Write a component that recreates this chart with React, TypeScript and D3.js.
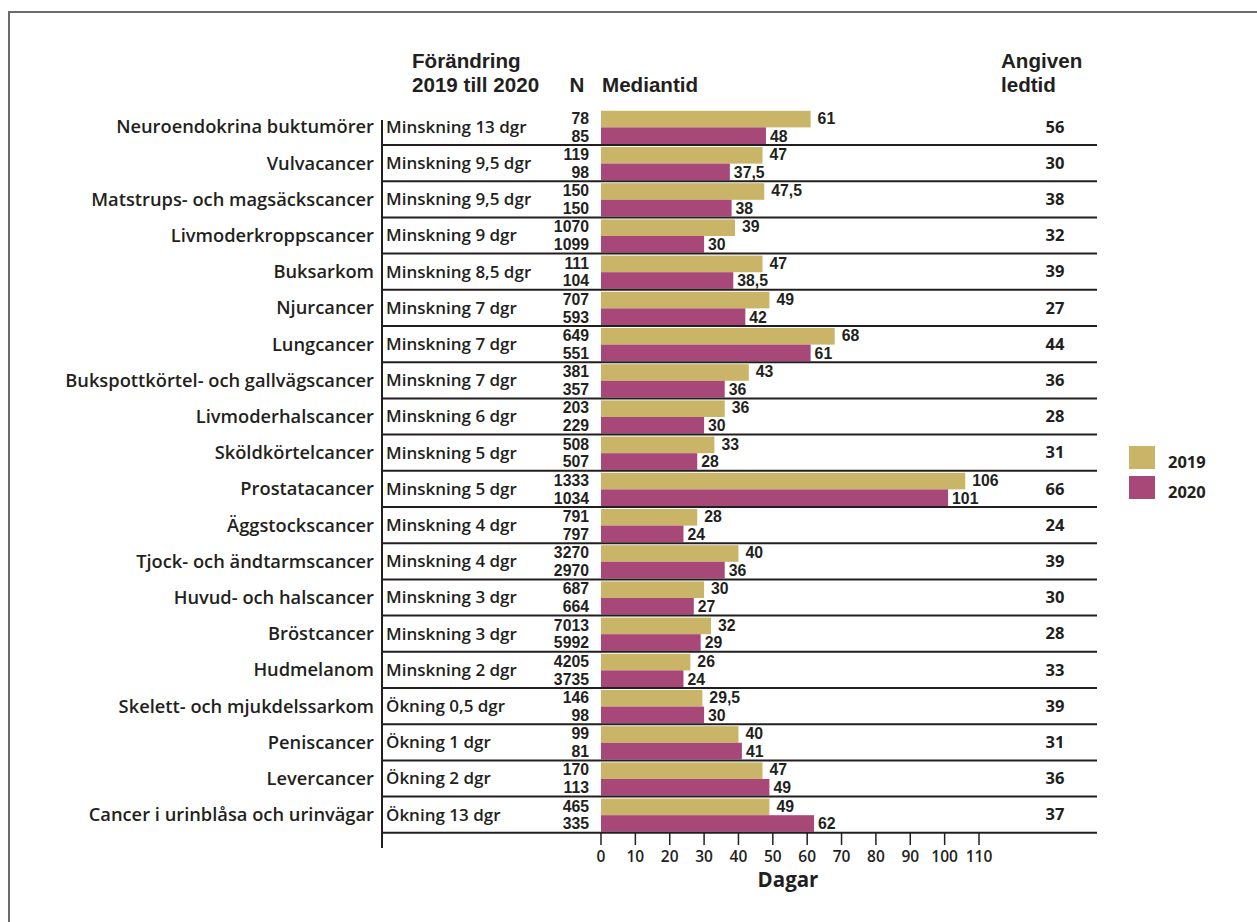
import React from "react";
import * as d3 from "d3";

const categories = [
  "Neuroendokrina buktumörer",
  "Vulvacancer",
  "Matstrups- och magsäckscancer",
  "Livmoderkroppscancer",
  "Buksarkom",
  "Njurcancer",
  "Lungcancer",
  "Bukspottkörtel- och gallvägscancer",
  "Livmoderhalscancer",
  "Sköldkörtelcancer",
  "Prostatacancer",
  "Äggstockscancer",
  "Tjock- och ändtarmscancer",
  "Huvud- och halscancer",
  "Bröstcancer",
  "Hudmelanom",
  "Skelett- och mjukdelssarkom",
  "Peniscancer",
  "Levercancer",
  "Cancer i urinblåsa och urinvägar",
];

const changeLabels = [
  "Minskning 13 dgr",
  "Minskning 9,5 dgr",
  "Minskning 9,5 dgr",
  "Minskning 9 dgr",
  "Minskning 8,5 dgr",
  "Minskning 7 dgr",
  "Minskning 7 dgr",
  "Minskning 7 dgr",
  "Minskning 6 dgr",
  "Minskning 5 dgr",
  "Minskning 5 dgr",
  "Minskning 4 dgr",
  "Minskning 4 dgr",
  "Minskning 3 dgr",
  "Minskning 3 dgr",
  "Minskning 2 dgr",
  "Ökning 0,5 dgr",
  "Ökning 1 dgr",
  "Ökning 2 dgr",
  "Ökning 13 dgr",
];

const n2019 = [78, 119, 150, 1070, 111, 707, 649, 381, 203, 508, 1333, 791, 3270, 687, 7013, 4205, 146, 99, 170, 465];
const n2020 = [85, 98, 150, 1099, 104, 593, 551, 357, 229, 507, 1034, 797, 2970, 664, 5992, 3735, 98, 81, 113, 335];

const median2019 = [61, 47, 47.5, 39, 47, 49, 68, 43, 36, 33, 106, 28, 40, 30, 32, 26, 29.5, 40, 47, 49];
const median2020 = [48, 37.5, 38, 30, 38.5, 42, 61, 36, 30, 28, 101, 24, 36, 27, 29, 24, 30, 41, 49, 62];

const statedLeadTime = [56, 30, 38, 32, 39, 27, 44, 36, 28, 31, 66, 24, 39, 30, 28, 33, 39, 31, 36, 37];

const years = ["2019", "2020"];
const tickValues = [0, 10, 20, 30, 40, 50, 60, 70, 80, 90, 100, 110];

const GOLD = "#C9B467";
const PLUM = "#A84878";
const INK = "#231F20";
const FONT = "'Open Sans', 'Noto Sans', sans-serif";
// compact face for the tightly stacked lines (number pairs, two-line headers)
const TIGHT_FONT = "'Liberation Sans', Arial, sans-serif";

const fmt = (v: number) => String(v).replace(".", ",");

export default function App() {
  const width = 1257;
  const height = 922;

  const x = d3.scaleLinear().domain([0, 110]).range([601, 979]);
  const y = d3
    .scaleBand<string>()
    .domain(categories)
    .range([108.8, 832.8])
    .paddingInner(0)
    .paddingOuter(0);
  const sub = d3
    .scaleBand<string>()
    .domain(years)
    .range([2, y.bandwidth() - 1]);

  const lineLeft = 382;
  const lineRight = 1097;

  return (
    <svg
      width={width}
      height={height}
      style={{ position: "absolute", left: 0, top: 0, background: "#fff" }}
      fontFamily={FONT}
    >
      {/* frame */}
      <line x1={8} x2={width} y1={12} y2={12} stroke="#6b6b6b" strokeWidth={2} />
      <line x1={9} x2={9} y1={12} y2={height} stroke="#6b6b6b" strokeWidth={2} />

      {/* column headers */}
      <g fill={INK} fontWeight={700} fontSize={20.6} fontFamily={TIGHT_FONT}>
        <text x={412} y={68}>Förändring</text>
        <text x={412} y={91.5}>2019 till 2020</text>
        <text x={577} y={91.5} textAnchor="middle">N</text>
        <text x={602} y={91.5}>Mediantid</text>
        <text x={1001} y={68}>Angiven</text>
        <text x={1001} y={91.5}>ledtid</text>
      </g>

      {/* rows */}
      {categories.map((c, i) => {
        const top = y(c) as number;
        const mid = top + y.bandwidth() / 2;
        const bh = sub.bandwidth();
        const c19 = top + (sub("2019") as number) + bh / 2;
        const c20 = top + (sub("2020") as number) + bh / 2;
        return (
          <g key={c}>
            <text x={374} y={mid} dy="0.35em" textAnchor="end" fontSize={18.3} fontWeight={600} fill={INK}>
              {c}
            </text>
            <text x={386} y={mid} dy="0.35em" fontSize={17} fontWeight={600} fill={INK}>
              {changeLabels[i]}
            </text>
            {/* case counts, 2019 above 2020 */}
            <g fontFamily={TIGHT_FONT} fontSize={15.8} fontWeight={700} fill={INK}>
              <text x={589} y={c19 + 4.6} textAnchor="end">{n2019[i]}</text>
              <text x={589} y={c20 + 5.9} textAnchor="end">{n2020[i]}</text>
            </g>
            <rect x={x(0)} y={c19 - bh / 2} width={x(median2019[i]) - x(0)} height={bh} fill={GOLD} />
            <rect x={x(0)} y={c20 - bh / 2} width={x(median2020[i]) - x(0)} height={bh} fill={PLUM} />
            {/* median values at bar ends */}
            <g fontFamily={TIGHT_FONT} fontSize={15.8} fontWeight={700} fill={INK}>
              <text x={x(median2019[i]) + 7} y={c19 + 4.6}>{fmt(median2019[i])}</text>
              <text x={x(median2020[i]) + 4} y={c20 + 5.9}>{fmt(median2020[i])}</text>
            </g>
            <text x={1055} y={mid} dy="0.35em" textAnchor="middle" fontSize={16.5} fontWeight={700} fill={INK}>
              {statedLeadTime[i]}
            </text>
            <line
              x1={lineLeft}
              x2={lineRight}
              y1={top + y.bandwidth()}
              y2={top + y.bandwidth()}
              stroke={INK}
              strokeWidth={2}
            />
          </g>
        );
      })}

      {/* vertical divider */}
      <line x1={lineLeft} x2={lineLeft} y1={120} y2={848} stroke={INK} strokeWidth={2} />

      {/* x axis */}
      <g>
        {tickValues.map((t) => (
          <g key={t} transform={`translate(${x(t)},0)`}>
            <line y1={833} y2={845} stroke={INK} strokeWidth={1.5} />
            <text y={857} dy="0.35em" textAnchor="middle" fontSize={15.5} fontWeight={600} fill={INK}>
              {t}
            </text>
          </g>
        ))}
        <text x={788} y={880} dy="0.35em" textAnchor="middle" fontSize={20.5} fontWeight={700} fill={INK}>
          Dagar
        </text>
      </g>

      {/* legend */}
      {years.map((yr, i) => (
        <g key={yr} transform={`translate(1129,${446 + i * 30})`}>
          <rect width={26} height={23} fill={i === 0 ? GOLD : PLUM} />
          <text x={39} y={22} fontSize={16.5} fontWeight={700} fill={INK}>
            {yr}
          </text>
        </g>
      ))}
    </svg>
  );
}
